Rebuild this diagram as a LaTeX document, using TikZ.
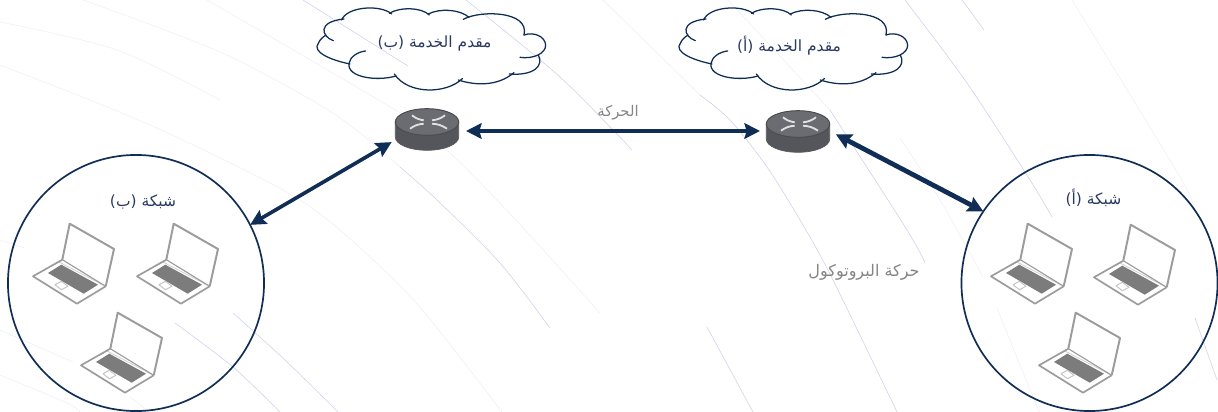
\documentclass[tikz,border=0pt]{standalone}
\usepackage{fontspec}
\usetikzlibrary{arrows.meta}
\TeXXeTstate=1
\newfontfamily\arabicfont[Script=Arabic]{DejaVu Sans}
\definecolor{navy}{HTML}{0F2D55}
\definecolor{labelblue}{HTML}{2A3A62}
\definecolor{labelgray}{HTML}{858585}
\definecolor{arcclear}{HTML}{D0D0EA}
\definecolor{arcpale}{HTML}{EEEEF8}
\definecolor{lapgray}{HTML}{9C9C9C}
\definecolor{keygray}{HTML}{7C7C7C}
\definecolor{routerside}{HTML}{54565C}
\definecolor{routertop}{HTML}{6A6C72}
\newcommand{\arlabel}[1]{\arabicfont\beginR #1\endR}
% hand drawn cloud, coordinates are 3x pixels
\newcommand{\cloudpic}[2]{
  \begin{scope}[shift={(#1,#2)},scale=.3333,navy,line width=.9pt,line cap=round]
    \draw (100,122) .. controls (65,110) and (50,65) .. (132,57);
    \draw (125,60) .. controls (140,20) and (240,12) .. (275,42);
    \draw (268,40) .. controls (300,20) and (365,22) .. (388,45);
    \draw (385,42) .. controls (420,24) and (480,28) .. (507,52);
    \draw (490,58) .. controls (540,30) and (690,32) .. (672,105);
    \draw (660,172) .. controls (700,178) and (738,160) .. (737,135) .. controls (735,108) and (700,95) .. (672,105);
    \draw (715,165) .. controls (732,195) and (705,228) .. (628,222);
    \draw (642,218) .. controls (590,262) and (520,255) .. (475,240);
    \draw (487,236) .. controls (440,282) and (325,285) .. (283,222);
    \draw (288,228) .. controls (230,245) and (140,232) .. (147,190) .. controls (150,170) and (175,155) .. (197,153);
    \draw (150,192) .. controls (90,180) and (35,155) .. (55,130) .. controls (60,118) and (68,112) .. (78,105);
  \end{scope}}
\newcommand{\routerpic}[2]{
  \begin{scope}[shift={(#1,#2)}]
    \draw[fill=routerside,draw=black!65,line width=.5pt] (-31.7,0) -- (-31.7,15) arc[x radius=31.7,y radius=13.3,start angle=180,end angle=0] -- (31.7,0) -- cycle;
    \draw[fill=routertop,draw=black!70,line width=.7pt] (0,0) ellipse[x radius=31.7,y radius=13.3];
    \draw[white!88!black,line width=1.3pt] (-15,-6.7) to[bend right=15] (-3.3,-1.7);
    \draw[white!88!black,line width=1.3pt] (18,-6.7) to[bend left=15] (5,-1.7);
    \draw[white!88!black,line width=1.3pt] (-17,6.7) to[bend left=15] (-3.3,1.7);
    \draw[white!88!black,line width=1.3pt] (20,6.7) to[bend right=15] (5,1.7);
  \end{scope}}
\newcommand{\laptoppic}[2]{
  \begin{scope}[shift={(#1,#2)},line join=round]
    \fill[keygray] (-25,10) -- (-11.7,1.7) -- (25,21.7) -- (10.7,30.7) -- cycle;
    \draw[lapgray!45,line width=.6pt] (-14,-1) -- (30,22);
    \draw[lapgray!45,line width=.6pt] (-18,1.5) -- (-14,-1);
    \draw[lapgray!60,line width=.7pt] (-18,21.7) -- (-11.7,18.3) -- (-5,23.3) -- (-11.7,26.7) -- cycle;
    \draw[lapgray,line width=1.4pt] (-10.7,-3.3) -- (-3.3,-39.3) -- (41,-14) -- (32.7,23.3);
    \draw[lapgray,line width=.8pt] (-10.7,-3.3) -- (32.7,23.3);
    \draw[lapgray,line width=1.2pt] (-10.7,-3.3) -- (-40,13.3) -- (4,40.7) -- (32.7,23.3);
  \end{scope}}
\tikzset{
  arcline/.style={arcclear,line width=.4pt},
  arcfaint/.style={arcpale,line width=.4pt},
  netcircle/.style={draw=navy,circle,line width=1.2pt,minimum size=6.4cm,inner sep=0pt,outer sep=0pt},
  routernode/.style={circle,minimum size=1.9cm,inner sep=0pt,outer sep=0pt},
  darklabel/.style={labelblue,font=\fontsize{11}{13}\selectfont,inner sep=0pt},
  graylabel/.style={labelgray,font=\fontsize{10.5}{13}\selectfont,inner sep=0pt},
  linkarrow/.style={navy,{Stealth[length=11pt,width=11pt,inset=1.5pt]}-{Stealth[length=11pt,width=11pt,inset=1.5pt]}}
}
\begin{document}
\begin{tikzpicture}[x=.025cm,y=-.025cm]
  \useasboundingbox (0,0) rectangle (1218,412);
  % background arcs
  \draw[arcfaint] plot[smooth] coordinates {(0,22) (117,50) (220,100)};
  \draw[arcfaint] plot[smooth] coordinates {(0,65) (150,125) (300,200) (387,273) (433,323) (502,412)};
  \draw[arcfaint] plot[smooth] coordinates {(83,0) (220,52) (333,113) (400,167)};
  \draw[arcline] plot[smooth] coordinates {(400,167) (437,200) (500,263) (550,328)};
  \draw[arcfaint] plot[smooth] coordinates {(207,0) (400,113) (450,153) (513,217) (600,313)};
  \draw[arcline] plot[smooth] coordinates {(303,0) (408,66)};
  \draw[arcline] plot[smooth] coordinates {(466,0) (560,77) (632,150)};
  \draw[arcfaint] plot[smooth] coordinates {(603,0) (700,95)};
  \draw[arcline] plot[smooth] coordinates {(700,95) (730,120) (767,167) (803,225) (833,280) (897,412)};
  \draw[arcfaint] plot[smooth] coordinates {(728,0) (830,110)};
  \draw[arcline] plot[smooth] coordinates {(830,110) (907,230) (925,263)};
  \draw[arcline] plot[smooth] coordinates {(905,0) (967,83) (1030,180) (1052,217)};
  \draw[arcline] plot[smooth] coordinates {(962,0) (984,30)};
  \draw[arcfaint] plot[smooth] coordinates {(1072,0) (1180,177) (1193,207)};
  \draw[arcline] plot[smooth] coordinates {(1195,318) (1217,380)};
  \draw[arcfaint] plot[smooth] coordinates {(900,138) (940,200) (983,277)};
  \draw[arcfaint] plot[smooth] coordinates {(997,308) (1033,397) (1040,412)};
  \draw[arcline] plot[smooth] coordinates {(233,313) (285,360) (338,412)};
  \draw[arcline] plot[smooth] coordinates {(175,323) (233,367) (280,412)};
  \draw[arcfaint] plot[smooth] coordinates {(0,240) (25,248)};
  \draw[arcfaint] plot[smooth] coordinates {(0,330) (73,362)};
  \draw[arcfaint] plot[smooth] coordinates {(0,375) (67,403) (80,412)};
  \draw[arcfaint] plot[smooth] coordinates {(130,397) (147,410)};
  \draw[arcline] plot[smooth] coordinates {(707,327) (753,412)};

  \cloudpic{300}{0}
  \cloudpic{662}{0}
  \routerpic{427}{122}
  \routerpic{798}{124}
  \laptoppic{73}{263}
  \laptoppic{177}{263}
  \laptoppic{121}{352}
  \laptoppic{1031}{263}
  \laptoppic{1134}{264}
  \laptoppic{1079}{352}

  \node (netB) at (136,283) [netcircle] {};
  \node (netA) at (1089.5,283) [netcircle] {};
  \node (routerB) at (428,131) [routernode] {};
  \node (routerA) at (798,131) [routernode] {};

  \draw[linkarrow,line width=3.2pt] (routerB) to (routerA);
  \draw[linkarrow,line width=2.6pt] (routerB.197) to (netB.27);
  \draw[linkarrow,line width=3.4pt] (routerA.-5) to (netA.146);

  \node (cloudBtext) at (434.5,43) [darklabel] {\arlabel{مقدم الخدمة (ب)}};
  \node (cloudAtext) at (789,46) [darklabel] {\arlabel{مقدم الخدمة (أ)}};
  \node (netBtext) at (143,202) [darklabel] {\arlabel{شبكة (ب)}};
  \node (netAtext) at (1093.5,198) [darklabel] {\arlabel{شبكة (أ)}};
  \node (traffictext) at (618,113) [graylabel] {\arlabel{الحركة}};
  \node (prototext) at (864,272) [graylabel,font=\fontsize{11.4}{13}\selectfont] {\arlabel{حركة البروتوكول}};
\end{tikzpicture}
\end{document}
